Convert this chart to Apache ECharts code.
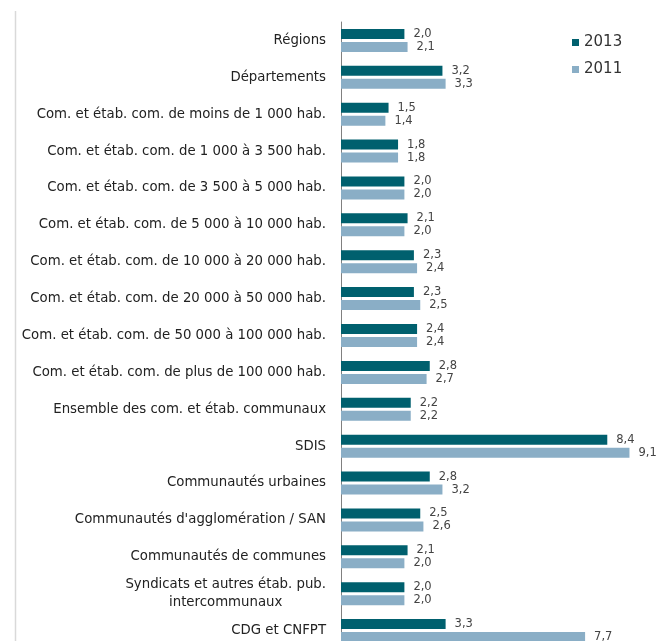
<!DOCTYPE html>
<html>
<head>
    <meta charset="utf-8" />
    <title>Taux</title>
    <script src="https://cdn.jsdelivr.net/npm/echarts@6/dist/echarts.min.js"></script>
    <style>
        html, body { margin: 0; padding: 0; background: #fff; }
    </style>
</head>
<body>
<div id="main" style="width: 657px;height:641px;"></div>
<script type="text/javascript">
    var categories = [
        'Régions',
        'Départements',
        'Com. et étab. com. de moins de 1 000 hab.',
        'Com. et étab. com. de 1 000 à 3 500 hab.',
        'Com. et étab. com. de 3 500 à 5 000 hab.',
        'Com. et étab. com. de 5 000 à 10 000 hab.',
        'Com. et étab. com. de 10 000 à 20 000 hab.',
        'Com. et étab. com. de 20 000 à 50 000 hab.',
        'Com. et étab. com. de 50 000 à 100 000 hab.',
        'Com. et étab. com. de plus de 100 000 hab.',
        'Ensemble des com. et étab. communaux',
        'SDIS',
        'Communautés urbaines',
        'Communautés d\'agglomération / SAN',
        'Communautés de communes',
        'Syndicats et autres étab. pub.\nintercommunaux',
        'CDG et CNFPT'
    ];
    var values2013 = [2.0, 3.2, 1.5, 1.8, 2.0, 2.1, 2.3, 2.3, 2.4, 2.8, 2.2, 8.4, 2.8, 2.5, 2.1, 2.0, 3.3];
    var values2011 = [2.1, 3.3, 1.4, 1.8, 2.0, 2.0, 2.4, 2.5, 2.4, 2.7, 2.2, 9.1, 3.2, 2.6, 2.0, 2.0, 7.7];

    var myChart = echarts.init(document.getElementById('main'));

    // valeurs avec virgule décimale
    function fmt(p) {
        return p.value.toFixed(1).replace('.', ',');
    }

    var option = {
        animation: false,
        textStyle: { fontFamily: 'DejaVu Sans, sans-serif' },
        legend: {
            orient: 'vertical',
            left: 572,
            top: 35,
            padding: 0,
            itemWidth: 7,
            itemHeight: 7,
            itemGap: 12,
            icon: 'rect',
            textStyle: { fontSize: 15, color: '#333' },
            data: ['2013', '2011']
        },
        grid: {
            left: 341,
            top: 22,
            width: 317,
            height: 627,
            outerBoundsMode: 'none',
            containLabel: false
        },
        xAxis: {
            type: 'value',
            min: 0,
            max: 10,
            show: false
        },
        yAxis: {
            type: 'category',
            inverse: true,
            data: categories,
            axisLine: { show: true, lineStyle: { color: '#808080', width: 1 } },
            axisTick: { show: false },
            axisLabel: {
                margin: 15,
                color: '#222',
                fontSize: 13.3,
                lineHeight: 18,
                formatter: function (v) {
                    var lines = v.split('\n');
                    if (lines.length < 2) return v;
                    return '{a|' + lines[0] + '}\n{b|' + lines[1] + '}';
                },
                rich: {
                    a: { fontSize: 13.3, color: '#222', lineHeight: 18 },
                    b: { fontSize: 13.3, color: '#222', lineHeight: 18, align: 'center' }
                }
            }
        },
        series: [
            {
                name: '2013',
                type: 'bar',
                data: values2013,
                barWidth: 10,
                barGap: '30%',
                itemStyle: { color: '#00606e' },
                label: {
                    show: true,
                    position: 'right',
                    distance: 9,
                    color: '#444',
                    fontSize: 11.5,
                    formatter: fmt
                }
            },
            {
                name: '2011',
                type: 'bar',
                data: values2011,
                barWidth: 10,
                itemStyle: { color: '#8aaec6' },
                label: {
                    show: true,
                    position: 'right',
                    distance: 9,
                    color: '#444',
                    fontSize: 11.5,
                    formatter: fmt
                }
            }
        ],
        graphic: [
            {
                type: 'line',
                shape: { x1: 15.5, y1: 11, x2: 15.5, y2: 641 },
                style: { stroke: '#d9d9d9', lineWidth: 1.5 }
            }
        ]
    };

    myChart.setOption(option);
</script>
</body>
</html>
